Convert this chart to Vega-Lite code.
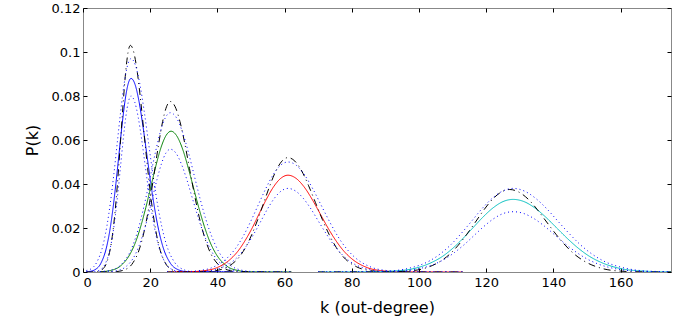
{
"$schema":"https://vega.github.io/schema/vega-lite/v6.json",
"autosize":"none",
"width":588,"height":264,
"padding":{"left":83,"top":8,"right":20,"bottom":57},
"background":"white",
"config":{"view":{"stroke":"#888888","strokeWidth":1},"font":"DejaVu Sans",
"axis":{"grid":false,"domain":false,"tickColor":"#000000","tickSize":-4,"labelFont":"DejaVu Sans","labelFontSize":13,"labelColor":"#000000","titleFont":"DejaVu Sans","titleFontSize":16,"titleFontWeight":"normal","titleColor":"#000000"}},
"data":{"values":[
{"s":"s1","k":1,"p":0.0001},{"s":"s1","k":1.7,"p":0.0002},{"s":"s1","k":3.5,"p":0.001},{"s":"s1","k":5.3,"p":0.0039},{"s":"s1","k":7.1,"p":0.0119},{"s":"s1","k":8,"p":0.019},{"s":"s1","k":8.9,"p":0.0286},{"s":"s1","k":9.8,"p":0.0403},{"s":"s1","k":10.7,"p":0.0534},{"s":"s1","k":11.6,"p":0.0664},{"s":"s1","k":12.5,"p":0.0777},{"s":"s1","k":13.4,"p":0.0853},{"s":"s1","k":14.3,"p":0.088},{"s":"s1","k":15.48,"p":0.0853},{"s":"s1","k":16.65,"p":0.0777},{"s":"s1","k":17.83,"p":0.0664},{"s":"s1","k":19,"p":0.0534},{"s":"s1","k":20.18,"p":0.0403},{"s":"s1","k":21.35,"p":0.0286},{"s":"s1","k":22.53,"p":0.019},{"s":"s1","k":23.7,"p":0.0119},{"s":"s1","k":26.05,"p":0.0039},{"s":"s1","k":28.4,"p":0.001},{"s":"s1","k":30.75,"p":0.0002},{"s":"s1","k":45,"p":0},
{"s":"b1","k":1,"p":0},{"s":"b1","k":4.3,"p":0.0002},{"s":"b1","k":5.7,"p":0.0011},{"s":"b1","k":7.1,"p":0.0045},{"s":"b1","k":8.5,"p":0.0139},{"s":"b1","k":9.2,"p":0.0223},{"s":"b1","k":9.9,"p":0.0334},{"s":"b1","k":10.6,"p":0.0472},{"s":"b1","k":11.3,"p":0.0625},{"s":"b1","k":12,"p":0.0777},{"s":"b1","k":12.7,"p":0.0909},{"s":"b1","k":13.4,"p":0.0998},{"s":"b1","k":14.1,"p":0.103},{"s":"b1","k":15.13,"p":0.0998},{"s":"b1","k":16.15,"p":0.0909},{"s":"b1","k":17.18,"p":0.0777},{"s":"b1","k":18.2,"p":0.0625},{"s":"b1","k":19.23,"p":0.0472},{"s":"b1","k":20.25,"p":0.0334},{"s":"b1","k":21.28,"p":0.0223},{"s":"b1","k":22.3,"p":0.0139},{"s":"b1","k":24.35,"p":0.0045},{"s":"b1","k":26.4,"p":0.0011},{"s":"b1","k":28.45,"p":0.0002},{"s":"b1","k":45,"p":0},
{"s":"u1","k":1,"p":0.0007},{"s":"u1","k":2,"p":0.0011},{"s":"u1","k":4.05,"p":0.0043},{"s":"u1","k":6.1,"p":0.0131},{"s":"u1","k":7.13,"p":0.021},{"s":"u1","k":8.15,"p":0.0315},{"s":"u1","k":9.18,"p":0.0444},{"s":"u1","k":10.2,"p":0.0588},{"s":"u1","k":11.23,"p":0.0732},{"s":"u1","k":12.25,"p":0.0856},{"s":"u1","k":13.28,"p":0.094},{"s":"u1","k":14.3,"p":0.097},{"s":"u1","k":15.6,"p":0.094},{"s":"u1","k":16.9,"p":0.0856},{"s":"u1","k":18.2,"p":0.0732},{"s":"u1","k":19.5,"p":0.0588},{"s":"u1","k":20.8,"p":0.0444},{"s":"u1","k":22.1,"p":0.0315},{"s":"u1","k":23.4,"p":0.021},{"s":"u1","k":24.7,"p":0.0131},{"s":"u1","k":27.3,"p":0.0043},{"s":"u1","k":29.9,"p":0.0011},{"s":"u1","k":32.5,"p":0.0002},{"s":"u1","k":45,"p":0},
{"s":"l1","k":1,"p":0},{"s":"l1","k":3.45,"p":0.0002},{"s":"l1","k":5,"p":0.0009},{"s":"l1","k":6.55,"p":0.0035},{"s":"l1","k":8.1,"p":0.0108},{"s":"l1","k":8.88,"p":0.0173},{"s":"l1","k":9.65,"p":0.026},{"s":"l1","k":10.43,"p":0.0366},{"s":"l1","k":11.2,"p":0.0485},{"s":"l1","k":11.98,"p":0.0604},{"s":"l1","k":12.75,"p":0.0706},{"s":"l1","k":13.53,"p":0.0775},{"s":"l1","k":14.3,"p":0.08},{"s":"l1","k":15.35,"p":0.0775},{"s":"l1","k":16.4,"p":0.0706},{"s":"l1","k":17.45,"p":0.0604},{"s":"l1","k":18.5,"p":0.0485},{"s":"l1","k":19.55,"p":0.0366},{"s":"l1","k":20.6,"p":0.026},{"s":"l1","k":21.65,"p":0.0173},{"s":"l1","k":22.7,"p":0.0108},{"s":"l1","k":24.8,"p":0.0035},{"s":"l1","k":26.9,"p":0.0009},{"s":"l1","k":29,"p":0.0002},{"s":"l1","k":45,"p":0},
{"s":"s2","k":5,"p":0.0001},{"s":"s2","k":8.2,"p":0.0007},{"s":"s2","k":11.2,"p":0.0028},{"s":"s2","k":14.2,"p":0.0087},{"s":"s2","k":15.7,"p":0.0138},{"s":"s2","k":17.2,"p":0.0208},{"s":"s2","k":18.7,"p":0.0293},{"s":"s2","k":20.2,"p":0.0388},{"s":"s2","k":21.7,"p":0.0483},{"s":"s2","k":23.2,"p":0.0565},{"s":"s2","k":24.7,"p":0.062},{"s":"s2","k":26.2,"p":0.064},{"s":"s2","k":27.85,"p":0.062},{"s":"s2","k":29.5,"p":0.0565},{"s":"s2","k":31.15,"p":0.0483},{"s":"s2","k":32.8,"p":0.0388},{"s":"s2","k":34.45,"p":0.0293},{"s":"s2","k":36.1,"p":0.0208},{"s":"s2","k":37.75,"p":0.0138},{"s":"s2","k":39.4,"p":0.0087},{"s":"s2","k":42.7,"p":0.0028},{"s":"s2","k":46,"p":0.0007},{"s":"s2","k":49.3,"p":0.0001},{"s":"s2","k":62,"p":0},
{"s":"b2","k":5,"p":0},{"s":"b2","k":9.9,"p":0.0002},{"s":"b2","k":12.2,"p":0.0009},{"s":"b2","k":14.5,"p":0.0034},{"s":"b2","k":16.8,"p":0.0105},{"s":"b2","k":17.95,"p":0.0168},{"s":"b2","k":19.1,"p":0.0252},{"s":"b2","k":20.25,"p":0.0355},{"s":"b2","k":21.4,"p":0.047},{"s":"b2","k":22.55,"p":0.0585},{"s":"b2","k":23.7,"p":0.0684},{"s":"b2","k":24.85,"p":0.0751},{"s":"b2","k":26,"p":0.0775},{"s":"b2","k":27.43,"p":0.0751},{"s":"b2","k":28.85,"p":0.0684},{"s":"b2","k":30.28,"p":0.0585},{"s":"b2","k":31.7,"p":0.047},{"s":"b2","k":33.13,"p":0.0355},{"s":"b2","k":34.55,"p":0.0252},{"s":"b2","k":35.98,"p":0.0168},{"s":"b2","k":37.4,"p":0.0105},{"s":"b2","k":40.25,"p":0.0034},{"s":"b2","k":43.1,"p":0.0009},{"s":"b2","k":45.95,"p":0.0002},{"s":"b2","k":62,"p":0},
{"s":"u2","k":5,"p":0.0002},{"s":"u2","k":8.3,"p":0.0008},{"s":"u2","k":11.25,"p":0.0032},{"s":"u2","k":14.2,"p":0.0098},{"s":"u2","k":15.68,"p":0.0157},{"s":"u2","k":17.15,"p":0.0235},{"s":"u2","k":18.63,"p":0.0331},{"s":"u2","k":20.1,"p":0.0439},{"s":"u2","k":21.58,"p":0.0546},{"s":"u2","k":23.05,"p":0.0639},{"s":"u2","k":24.53,"p":0.0702},{"s":"u2","k":26,"p":0.0724},{"s":"u2","k":27.78,"p":0.0702},{"s":"u2","k":29.55,"p":0.0639},{"s":"u2","k":31.33,"p":0.0546},{"s":"u2","k":33.1,"p":0.0439},{"s":"u2","k":34.88,"p":0.0331},{"s":"u2","k":36.65,"p":0.0235},{"s":"u2","k":38.43,"p":0.0157},{"s":"u2","k":40.2,"p":0.0098},{"s":"u2","k":43.75,"p":0.0032},{"s":"u2","k":47.3,"p":0.0008},{"s":"u2","k":50.85,"p":0.0002},{"s":"u2","k":62,"p":0},
{"s":"l2","k":5,"p":0},{"s":"l2","k":7.45,"p":0.0001},{"s":"l2","k":10.1,"p":0.0006},{"s":"l2","k":12.75,"p":0.0024},{"s":"l2","k":15.4,"p":0.0075},{"s":"l2","k":16.73,"p":0.0121},{"s":"l2","k":18.05,"p":0.0181},{"s":"l2","k":19.38,"p":0.0255},{"s":"l2","k":20.7,"p":0.0338},{"s":"l2","k":22.03,"p":0.0421},{"s":"l2","k":23.35,"p":0.0492},{"s":"l2","k":24.68,"p":0.0541},{"s":"l2","k":26,"p":0.0558},{"s":"l2","k":27.63,"p":0.0541},{"s":"l2","k":29.25,"p":0.0492},{"s":"l2","k":30.88,"p":0.0421},{"s":"l2","k":32.5,"p":0.0338},{"s":"l2","k":34.13,"p":0.0255},{"s":"l2","k":35.75,"p":0.0181},{"s":"l2","k":37.38,"p":0.0121},{"s":"l2","k":39,"p":0.0075},{"s":"l2","k":42.25,"p":0.0024},{"s":"l2","k":45.5,"p":0.0006},{"s":"l2","k":48.75,"p":0.0001},{"s":"l2","k":62,"p":0},
{"s":"s3","k":25,"p":0},{"s":"s3","k":31.25,"p":0.0001},{"s":"s3","k":35.5,"p":0.0005},{"s":"s3","k":39.75,"p":0.0019},{"s":"s3","k":44,"p":0.006},{"s":"s3","k":46.13,"p":0.0095},{"s":"s3","k":48.25,"p":0.0143},{"s":"s3","k":50.38,"p":0.0201},{"s":"s3","k":52.5,"p":0.0267},{"s":"s3","k":54.63,"p":0.0332},{"s":"s3","k":56.75,"p":0.0388},{"s":"s3","k":58.88,"p":0.0426},{"s":"s3","k":61,"p":0.044},{"s":"s3","k":63.38,"p":0.0426},{"s":"s3","k":65.75,"p":0.0388},{"s":"s3","k":68.13,"p":0.0332},{"s":"s3","k":70.5,"p":0.0267},{"s":"s3","k":72.88,"p":0.0201},{"s":"s3","k":75.25,"p":0.0143},{"s":"s3","k":77.63,"p":0.0095},{"s":"s3","k":80,"p":0.006},{"s":"s3","k":84.75,"p":0.0019},{"s":"s3","k":89.5,"p":0.0005},{"s":"s3","k":94.25,"p":0.0001},{"s":"s3","k":113,"p":0},
{"s":"b3","k":25,"p":0},{"s":"b3","k":35.8,"p":0.0001},{"s":"b3","k":39.4,"p":0.0006},{"s":"b3","k":43,"p":0.0023},{"s":"b3","k":46.6,"p":0.007},{"s":"b3","k":48.4,"p":0.0112},{"s":"b3","k":50.2,"p":0.0169},{"s":"b3","k":52,"p":0.0238},{"s":"b3","k":53.8,"p":0.0315},{"s":"b3","k":55.6,"p":0.0392},{"s":"b3","k":57.4,"p":0.0459},{"s":"b3","k":59.2,"p":0.0504},{"s":"b3","k":61,"p":0.052},{"s":"b3","k":63.05,"p":0.0504},{"s":"b3","k":65.1,"p":0.0459},{"s":"b3","k":67.15,"p":0.0392},{"s":"b3","k":69.2,"p":0.0315},{"s":"b3","k":71.25,"p":0.0238},{"s":"b3","k":73.3,"p":0.0169},{"s":"b3","k":75.35,"p":0.0112},{"s":"b3","k":77.4,"p":0.007},{"s":"b3","k":81.5,"p":0.0023},{"s":"b3","k":85.6,"p":0.0006},{"s":"b3","k":89.7,"p":0.0001},{"s":"b3","k":113,"p":0},
{"s":"u3","k":25,"p":0},{"s":"u3","k":29.85,"p":0.0001},{"s":"u3","k":34.3,"p":0.0006},{"s":"u3","k":38.75,"p":0.0022},{"s":"u3","k":43.2,"p":0.0068},{"s":"u3","k":45.43,"p":0.0108},{"s":"u3","k":47.65,"p":0.0162},{"s":"u3","k":49.88,"p":0.0229},{"s":"u3","k":52.1,"p":0.0303},{"s":"u3","k":54.33,"p":0.0377},{"s":"u3","k":56.55,"p":0.0441},{"s":"u3","k":58.78,"p":0.0485},{"s":"u3","k":61,"p":0.05},{"s":"u3","k":63.48,"p":0.0485},{"s":"u3","k":65.95,"p":0.0441},{"s":"u3","k":68.43,"p":0.0377},{"s":"u3","k":70.9,"p":0.0303},{"s":"u3","k":73.38,"p":0.0229},{"s":"u3","k":75.85,"p":0.0162},{"s":"u3","k":78.33,"p":0.0108},{"s":"u3","k":80.8,"p":0.0068},{"s":"u3","k":85.75,"p":0.0022},{"s":"u3","k":90.7,"p":0.0006},{"s":"u3","k":95.65,"p":0.0001},{"s":"u3","k":113,"p":0},
{"s":"l3","k":25,"p":0},{"s":"l3","k":32.65,"p":0.0001},{"s":"l3","k":36.7,"p":0.0004},{"s":"l3","k":40.75,"p":0.0017},{"s":"l3","k":44.8,"p":0.0051},{"s":"l3","k":46.83,"p":0.0082},{"s":"l3","k":48.85,"p":0.0123},{"s":"l3","k":50.88,"p":0.0174},{"s":"l3","k":52.9,"p":0.023},{"s":"l3","k":54.93,"p":0.0287},{"s":"l3","k":56.95,"p":0.0335},{"s":"l3","k":58.98,"p":0.0368},{"s":"l3","k":61,"p":0.038},{"s":"l3","k":63.28,"p":0.0368},{"s":"l3","k":65.55,"p":0.0335},{"s":"l3","k":67.83,"p":0.0287},{"s":"l3","k":70.1,"p":0.023},{"s":"l3","k":72.38,"p":0.0174},{"s":"l3","k":74.65,"p":0.0123},{"s":"l3","k":76.93,"p":0.0082},{"s":"l3","k":79.2,"p":0.0051},{"s":"l3","k":83.75,"p":0.0017},{"s":"l3","k":88.3,"p":0.0004},{"s":"l3","k":92.85,"p":0.0001},{"s":"l3","k":113,"p":0},
{"s":"s4","k":70,"p":0},{"s":"s4","k":86,"p":0.0001},{"s":"s4","k":92,"p":0.0004},{"s":"s4","k":98,"p":0.0014},{"s":"s4","k":104,"p":0.0045},{"s":"s4","k":107,"p":0.0071},{"s":"s4","k":110,"p":0.0107},{"s":"s4","k":113,"p":0.0151},{"s":"s4","k":116,"p":0.02},{"s":"s4","k":119,"p":0.0249},{"s":"s4","k":122,"p":0.0291},{"s":"s4","k":125,"p":0.032},{"s":"s4","k":128,"p":0.033},{"s":"s4","k":131.25,"p":0.032},{"s":"s4","k":134.5,"p":0.0291},{"s":"s4","k":137.75,"p":0.0249},{"s":"s4","k":141,"p":0.02},{"s":"s4","k":144.25,"p":0.0151},{"s":"s4","k":147.5,"p":0.0107},{"s":"s4","k":150.75,"p":0.0071},{"s":"s4","k":154,"p":0.0045},{"s":"s4","k":160.5,"p":0.0014},{"s":"s4","k":167,"p":0.0004},{"s":"s4","k":173.5,"p":0.0001},{"s":"s4","k":175,"p":0.0001},
{"s":"b4","k":70,"p":0},{"s":"b4","k":91.3,"p":0.0001},{"s":"b4","k":96.4,"p":0.0004},{"s":"b4","k":101.5,"p":0.0016},{"s":"b4","k":106.6,"p":0.0051},{"s":"b4","k":109.15,"p":0.0081},{"s":"b4","k":111.7,"p":0.0122},{"s":"b4","k":114.25,"p":0.0172},{"s":"b4","k":116.8,"p":0.0227},{"s":"b4","k":119.35,"p":0.0283},{"s":"b4","k":121.9,"p":0.0331},{"s":"b4","k":124.45,"p":0.0363},{"s":"b4","k":127,"p":0.0375},{"s":"b4","k":129.75,"p":0.0363},{"s":"b4","k":132.5,"p":0.0331},{"s":"b4","k":135.25,"p":0.0283},{"s":"b4","k":138,"p":0.0227},{"s":"b4","k":140.75,"p":0.0172},{"s":"b4","k":143.5,"p":0.0122},{"s":"b4","k":146.25,"p":0.0081},{"s":"b4","k":149,"p":0.0051},{"s":"b4","k":154.5,"p":0.0016},{"s":"b4","k":160,"p":0.0004},{"s":"b4","k":165.5,"p":0.0001},{"s":"b4","k":175,"p":0},
{"s":"u4","k":70,"p":0},{"s":"u4","k":84.6,"p":0.0001},{"s":"u4","k":90.8,"p":0.0004},{"s":"u4","k":97,"p":0.0017},{"s":"u4","k":103.2,"p":0.0051},{"s":"u4","k":106.3,"p":0.0082},{"s":"u4","k":109.4,"p":0.0123},{"s":"u4","k":112.5,"p":0.0174},{"s":"u4","k":115.6,"p":0.023},{"s":"u4","k":118.7,"p":0.0287},{"s":"u4","k":121.8,"p":0.0335},{"s":"u4","k":124.9,"p":0.0368},{"s":"u4","k":128,"p":0.038},{"s":"u4","k":131.35,"p":0.0368},{"s":"u4","k":134.7,"p":0.0335},{"s":"u4","k":138.05,"p":0.0287},{"s":"u4","k":141.4,"p":0.023},{"s":"u4","k":144.75,"p":0.0174},{"s":"u4","k":148.1,"p":0.0123},{"s":"u4","k":151.45,"p":0.0082},{"s":"u4","k":154.8,"p":0.0051},{"s":"u4","k":161.5,"p":0.0017},{"s":"u4","k":168.2,"p":0.0004},{"s":"u4","k":174.9,"p":0.0001},
{"s":"l4","k":70,"p":0},{"s":"l4","k":87.4,"p":0.0001},{"s":"l4","k":93.2,"p":0.0003},{"s":"l4","k":99,"p":0.0012},{"s":"l4","k":104.8,"p":0.0037},{"s":"l4","k":107.7,"p":0.0059},{"s":"l4","k":110.6,"p":0.0089},{"s":"l4","k":113.5,"p":0.0125},{"s":"l4","k":116.4,"p":0.0166},{"s":"l4","k":119.3,"p":0.0207},{"s":"l4","k":122.2,"p":0.0242},{"s":"l4","k":125.1,"p":0.0266},{"s":"l4","k":128,"p":0.0274},{"s":"l4","k":131.15,"p":0.0266},{"s":"l4","k":134.3,"p":0.0242},{"s":"l4","k":137.45,"p":0.0207},{"s":"l4","k":140.6,"p":0.0166},{"s":"l4","k":143.75,"p":0.0125},{"s":"l4","k":146.9,"p":0.0089},{"s":"l4","k":150.05,"p":0.0059},{"s":"l4","k":153.2,"p":0.0037},{"s":"l4","k":159.5,"p":0.0012},{"s":"l4","k":165.8,"p":0.0003},{"s":"l4","k":172.1,"p":0.0001},{"s":"l4","k":175,"p":0}
]},
"layer":[
{"mark":{"type":"line","interpolate":"monotone","strokeWidth":1,"clip":true},
"encoding":{
"x":{"field":"k","type":"quantitative","scale":{"domain":[0,175],"nice":false,"zero":false},
"axis":{"title":"k (out-degree)","values":[0,20,40,60,80,100,120,140,160],"labelPadding":8,"titlePadding":10}},
"y":{"field":"p","type":"quantitative","scale":{"domain":[0,0.12],"nice":false},
"axis":{"title":"P(k)","format":".2~f","values":[0,0.02,0.04,0.06,0.08,0.1,0.12],"labelPadding":7,"titlePadding":11}},
"color":{"field":"s","type":"nominal","legend":null,
"scale":{"domain":["s1","s2","s3","s4","b1","b2","b3","b4","u1","l1","u2","l2","u3","l3","u4","l4"],
"range":["#0000ff","#008000","#ff0000","#00bfbf","#000000","#000000","#000000","#000000","#0000ff","#0000ff","#0000ff","#0000ff","#0000ff","#0000ff","#0000ff","#0000ff"]}},
"strokeDash":{"field":"s","type":"nominal","legend":null,
"scale":{"domain":["s1","s2","s3","s4","b1","b2","b3","b4","u1","l1","u2","l2","u3","l3","u4","l4"],
"range":[[1,0],[1,0],[1,0],[1,0],[7,4,1,4],[7,4,1,4],[7,4,1,4],[7,4,1,4],[1,3],[1,3],[1,3],[1,3],[1,3],[1,3],[1,3],[1,3]]}}
}},
{"mark":{"type":"rule","opacity":0},"encoding":{
"x":{"field":"k","type":"quantitative","aggregate":"min","axis":{"orient":"top","labels":false,"title":null,"values":[0,20,40,60,80,100,120,140,160]}},
"y":{"field":"p","type":"quantitative","aggregate":"min","axis":{"orient":"right","labels":false,"title":null,"values":[0,0.02,0.04,0.06,0.08,0.1,0.12]}}
}}
],
"resolve":{"axis":{"x":"independent","y":"independent"}}
}
